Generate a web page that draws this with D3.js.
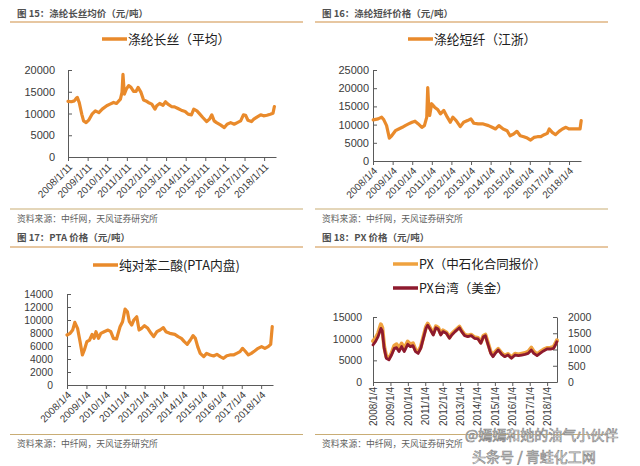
<!DOCTYPE html>
<html><head><meta charset="utf-8">
<script src="https://cdn.jsdelivr.net/npm/d3@7"></script>
<style>body{margin:0;background:#fff}svg{display:block}</style>
</head><body>
<svg id="c" width="640" height="466"></svg>
<script>
// ---------------- DATA ----------------
const titles = ["图 15：涤纶长丝均价（元/吨）","图 16：涤纶短纤价格（元/吨）","图 17：PTA 价格（元/吨）","图 18：PX 价格（元/吨）"];
const sourceText = "资料来源：中纤网，天风证券研究所";
const legendNames = ["涤纶长丝（平均）","涤纶短纤（江浙）","纯对苯二酸(PTA内盘)","PX（中石化合同报价）","PX台湾（美金）"];
const xTicks1 = ["2008/1/11","2009/1/11","2010/1/11","2011/1/11","2012/1/11","2013/1/11","2014/1/11","2015/1/11","2016/1/11","2017/1/11","2018/1/11"];
const xTicks4 = ["2008/1/4","2009/1/4","2010/1/4","2011/1/4","2012/1/4","2013/1/4","2014/1/4","2015/1/4","2016/1/4","2017/1/4","2018/1/4"];
const yTicks1 = [0,5000,10000,15000,20000];
const yTicks2 = [0,5000,10000,15000,20000,25000];
const yTicks3 = [0,2000,4000,6000,8000,10000,12000,14000];
const yTicks4L = [0,5000,10000,15000];
const yTicks4R = [0,500,1000,1500,2000];
const watermark = ["@嫣嫣和她的油气小伙伴","头条号 / 青蛙化工网"];

// [decimal year, value]
const filament = [[2008.03,12800],[2008.2,12700],[2008.35,12900],[2008.45,13500],[2008.5,13700],[2008.6,12500],[2008.73,9800],[2008.82,8300],[2008.95,7900],[2009.08,8460],[2009.25,9850],[2009.42,10600],[2009.6,10200],[2009.77,11000],[2010.0,11770],[2010.17,12150],[2010.35,12540],[2010.5,12300],[2010.7,13300],[2010.78,14850],[2010.83,19000],[2010.9,14460],[2011.0,15600],[2011.12,16400],[2011.24,16000],[2011.37,15100],[2011.5,15100],[2011.6,16000],[2011.75,14850],[2011.88,13100],[2012.0,12900],[2012.12,12540],[2012.3,12150],[2012.46,11000],[2012.55,11770],[2012.7,12300],[2012.87,11900],[2013.0,12700],[2013.12,12150],[2013.3,11600],[2013.46,11540],[2013.63,11150],[2013.8,10770],[2014.0,10460],[2014.15,9850],[2014.32,9700],[2014.44,11000],[2014.6,10600],[2014.75,9850],[2014.9,9080],[2015.1,8150],[2015.24,8700],[2015.36,9700],[2015.48,8300],[2015.6,7900],[2015.8,7380],[2016.0,6770],[2016.14,7540],[2016.32,7900],[2016.5,7540],[2016.66,7900],[2016.83,8300],[2016.97,9700],[2017.08,9600],[2017.2,8460],[2017.38,8150],[2017.5,8700],[2017.68,9230],[2017.85,9700],[2018.0,9460],[2018.17,9600],[2018.34,9850],[2018.48,10080],[2018.55,11600]];
const staple = [[2008.02,11300],[2008.27,11570],[2008.45,12040],[2008.56,11300],[2008.7,9720],[2008.84,6300],[2008.96,6940],[2009.15,8330],[2009.32,8800],[2009.5,9260],[2009.65,9720],[2009.82,10180],[2010.0,10650],[2010.15,10930],[2010.32,10180],[2010.5,9260],[2010.63,9720],[2010.75,12040],[2010.8,20190],[2010.85,14800],[2010.9,12500],[2011.0,15740],[2011.15,14800],[2011.32,14070],[2011.45,12960],[2011.62,13890],[2011.8,12040],[2011.95,10650],[2012.08,12040],[2012.25,11110],[2012.46,9440],[2012.63,10650],[2012.83,11110],[2013.0,11570],[2013.15,10370],[2013.37,10180],[2013.63,10180],[2013.9,9720],[2014.08,9260],[2014.26,8800],[2014.43,9720],[2014.65,8800],[2014.85,8330],[2015.0,6940],[2015.18,7400],[2015.35,8150],[2015.52,6940],[2015.7,6670],[2015.88,6300],[2016.05,5740],[2016.22,6480],[2016.4,6670],[2016.57,6670],[2016.74,7220],[2016.9,7590],[2017.0,8800],[2017.15,7870],[2017.32,7220],[2017.5,8150],[2017.67,8800],[2017.85,9260],[2018.0,8800],[2018.2,8800],[2018.4,8800],[2018.57,8800],[2018.63,11110]];
const pta = [[2008.01,7690],[2008.17,7950],[2008.3,8460],[2008.41,9640],[2008.55,8720],[2008.68,6670],[2008.8,4620],[2008.9,5380],[2009.03,6670],[2009.17,6920],[2009.3,7790],[2009.4,7180],[2009.5,8200],[2009.63,7180],[2009.75,7950],[2009.92,8200],[2010.12,8460],[2010.26,8200],[2010.4,7180],[2010.56,7080],[2010.74,8970],[2010.87,9740],[2011.0,11690],[2011.12,11280],[2011.22,9740],[2011.34,9230],[2011.45,10000],[2011.6,10510],[2011.72,8460],[2011.85,8720],[2012.0,9130],[2012.17,8720],[2012.34,7950],[2012.47,7440],[2012.64,8200],[2012.8,8460],[2012.97,8820],[2013.1,8200],[2013.3,7950],[2013.56,7790],[2013.73,7440],[2013.9,7180],[2014.05,6670],[2014.2,6260],[2014.36,6920],[2014.5,7590],[2014.62,7180],[2014.74,5900],[2014.87,4870],[2015.05,4360],[2015.2,4870],[2015.38,4620],[2015.56,4460],[2015.73,4720],[2015.9,4360],[2016.07,4100],[2016.24,4510],[2016.4,4620],[2016.58,4620],[2016.75,4870],[2016.92,5130],[2017.05,5640],[2017.18,5230],[2017.35,4620],[2017.5,4870],[2017.67,5230],[2017.85,5640],[2018.03,5900],[2018.2,5640],[2018.37,5900],[2018.5,6260],[2018.58,8970]];
// [decimal year, PX Sinopec contract (CNY), PX Taiwan (USD)]
const px = [[2008.01,9460,1140],[2008.15,10080,1240],[2008.3,11230,1395],[2008.46,13310,1650],[2008.54,12540,1570],[2008.65,8150,1035],[2008.77,5850,730],[2008.92,5460,680],[2009.07,6620,830],[2009.23,8380,1035],[2009.36,8690,1055],[2009.5,7620,935],[2009.65,8850,1090],[2009.8,7620,935],[2010.0,9310,1160],[2010.15,8690,1090],[2010.3,8920,1120],[2010.45,7380,935],[2010.6,7000,880],[2010.75,8080,1035],[2010.9,10380,1345],[2011.05,12690,1650],[2011.15,13460,1750],[2011.28,12540,1630],[2011.47,11150,1445],[2011.62,12850,1670],[2011.75,12540,1630],[2011.9,11150,1445],[2012.03,11920,1550],[2012.22,11460,1500],[2012.4,10310,1345],[2012.53,11080,1445],[2012.72,11850,1550],[2012.97,12770,1670],[2013.1,11850,1550],[2013.27,10920,1425],[2013.45,10690,1395],[2013.65,10920,1425],[2013.83,10310,1345],[2014.04,10150,1325],[2014.2,9150,1190],[2014.35,10690,1395],[2014.46,10920,1425],[2014.62,8850,1140],[2014.77,6920,880],[2014.9,6230,780],[2015.03,6920,880],[2015.2,7620,985],[2015.4,6620,850],[2015.57,6080,780],[2015.76,6460,830],[2015.96,5690,730],[2016.17,6540,830],[2016.36,6380,810],[2016.55,6540,830],[2016.74,6690,850],[2016.92,7000,880],[2017.1,7920,985],[2017.24,7000,880],[2017.43,6380,810],[2017.6,6920,880],[2017.8,7460,955],[2018.0,7850,1015],[2018.2,7920,1015],[2018.38,8080,1035],[2018.5,9000,1160],[2018.57,9620,1240]];

// ---------------- DRAW ----------------
const svg = d3.select("#c");
const CJK = "'Noto Sans CJK SC','Liberation Sans',sans-serif";
const NUM = "'Liberation Sans','Noto Sans CJK SC',sans-serif";
const ORANGE = "#e98a2b", ORANGE2 = "#efa23f", DARKRED = "#8e1a2e";
const AXIS = "#5a5a5a", TXT = "#3a3a3a";
const parseT = d3.timeParse("%Y/%m/%d");
const fmt = d3.format("d");
function dec(t){const y=Math.floor(t);const a=new Date(y,0,1),b=new Date(y+1,0,1);return new Date(+a+(t-y)*(b-a));}

svg.append("rect").attr("width",640).attr("height",466).attr("fill","#fff");

function frame(x0,x1,yTitle,yRule,yFoot,yDesc,title){
  svg.append("text").attr("x",x0+7).attr("y",yTitle).attr("font-family",CJK).attr("font-size",9.5)
    .attr("font-weight","bold").attr("fill","#505050").text(title);
  svg.append("line").attr("x1",x0).attr("x2",x1).attr("y1",yRule).attr("y2",yRule).attr("stroke","#cf8f45").attr("stroke-width",1.2);
  svg.append("line").attr("x1",x0).attr("x2",x1).attr("y1",yFoot).attr("y2",yFoot).attr("stroke","#c9ad75").attr("stroke-width",1.2);
  svg.append("text").attr("x",x0+7).attr("y",yDesc).attr("font-family",CJK).attr("font-size",8.8)
    .attr("fill","#606060").text(sourceText);
}
frame(10,303,17,22,209,222,titles[0]);
frame(315,608,17,22,209,222,titles[1]);
frame(10,303,241,247,434.5,447,titles[2]);
frame(315,608,241,247,434.5,447,titles[3]);

function legend(x,y,color,label,fs){
  svg.append("line").attr("x1",x).attr("x2",x+25).attr("y1",y).attr("y2",y).attr("stroke",color).attr("stroke-width",3.5);
  svg.append("text").attr("x",x+26).attr("y",y).attr("dy","0.36em").attr("font-family",CJK).attr("font-size",fs)
    .attr("fill","#202020").text(label);
}
legend(102,39,ORANGE,legendNames[0],12.8);
legend(408,39,ORANGE,legendNames[1],12.8);
legend(93,265,ORANGE,legendNames[2],12.8);
legend(393,264,ORANGE2,legendNames[3],12.5);
legend(393,288,DARKRED,legendNames[4],12.5);

function styleAxis(g,fs){
  g.selectAll("path,line").attr("stroke",AXIS).attr("stroke-width",1);
  g.selectAll("text").attr("font-family",NUM).attr("font-size",fs).attr("fill",TXT);
}

function panel(o){
  const x = d3.scaleTime().domain(o.xDomain).range([o.x0,o.x1]);
  const y = d3.scaleLinear().domain([0,o.yMax]).range([o.y0,o.y1]);
  const tv = o.xLabels.map(parseT);
  const gx = svg.append("g").attr("transform",`translate(0,${o.y0})`)
    .call(d3.axisBottom(x).tickValues(tv).tickFormat((d,i)=>o.xLabels[i]).tickSize(4).tickSizeOuter(0));
  styleAxis(gx,10);
  if(o.vertical){
    gx.selectAll(".tick text").attr("x",0).attr("y",0).attr("dy","0.35em").attr("text-anchor","end")
      .attr("transform","translate(0,5) rotate(-90)");
  } else {
    gx.selectAll(".tick text").attr("x",0).attr("y",0).attr("dy","0.35em").attr("text-anchor","end")
      .attr("transform","translate(2,8) rotate(-45)");
  }
  const gy = svg.append("g").attr("transform",`translate(${o.x0},0)`)
    .call(d3.axisLeft(y).tickValues(o.yTicks).tickFormat(fmt).tickSize(-4).tickSizeOuter(0).tickPadding(o.pad));
  styleAxis(gy,o.yfs);
  return {x,y};
}

function drawLine(sc,yS,data,idx,color,w){
  const line = d3.line().x(d=>sc.x(dec(d[0]))).y(d=>yS(d[idx])).curve(d3.curveLinear);
  svg.append("path").datum(data).attr("d",line).attr("fill","none").attr("stroke",color)
    .attr("stroke-width",w).attr("stroke-linejoin","round").attr("stroke-linecap","round");
}

const s1 = panel({xDomain:[parseT("2008/1/11"),new Date(2018,7,20)],x0:68,x1:276,y0:157,y1:70,yMax:20000,yTicks:yTicks1,xLabels:xTicks1,pad:13,yfs:11});
drawLine(s1,s1.y,filament,1,ORANGE,3.2);
const s2 = panel({xDomain:[parseT("2008/1/4"),new Date(2018,7,15)],x0:373,x1:581,y0:161,y1:70,yMax:25000,yTicks:yTicks2,xLabels:xTicks4,pad:4,yfs:11});
drawLine(s2,s2.y,staple,1,ORANGE,3.2);
const s3 = panel({xDomain:[parseT("2008/1/4"),new Date(2018,7,15)],x0:67,x1:273,y0:385,y1:294,yMax:14000,yTicks:yTicks3,xLabels:xTicks4,pad:14,yfs:10.3});
drawLine(s3,s3.y,pta,1,ORANGE,3.2);
const s4 = panel({xDomain:[parseT("2008/1/4"),new Date(2018,6,30)],x0:373,x1:557,y0:382,y1:317,yMax:15000,yTicks:yTicks4L,xLabels:xTicks4,pad:11,yfs:10.5,vertical:true});
const yR = d3.scaleLinear().domain([0,2000]).range([382,317]);
const gr = svg.append("g").attr("transform","translate(557,0)")
  .call(d3.axisRight(yR).tickValues(yTicks4R).tickFormat(fmt).tickSize(-4).tickSizeOuter(0).tickPadding(11));
styleAxis(gr,10.5);
drawLine(s4,s4.y,px,1,ORANGE2,4);
drawLine(s4,yR,px,2,DARKRED,2.8);

// watermark
svg.append("text").attr("x",465).attr("y",435).attr("dy","0.36em").attr("font-family",CJK).attr("font-size",14)
  .attr("fill","#ffffff").attr("fill-opacity",0.85).attr("stroke","#8a8a8a").attr("stroke-width",0.7).text(watermark[0]);
svg.append("text").attr("x",472).attr("y",456.5).attr("dy","0.36em").attr("font-family",CJK).attr("font-size",14)
  .attr("fill","#ffffff").attr("fill-opacity",0.85).attr("stroke","#8a8a8a").attr("stroke-width",0.7).text(watermark[1]);
</script>
</body></html>
